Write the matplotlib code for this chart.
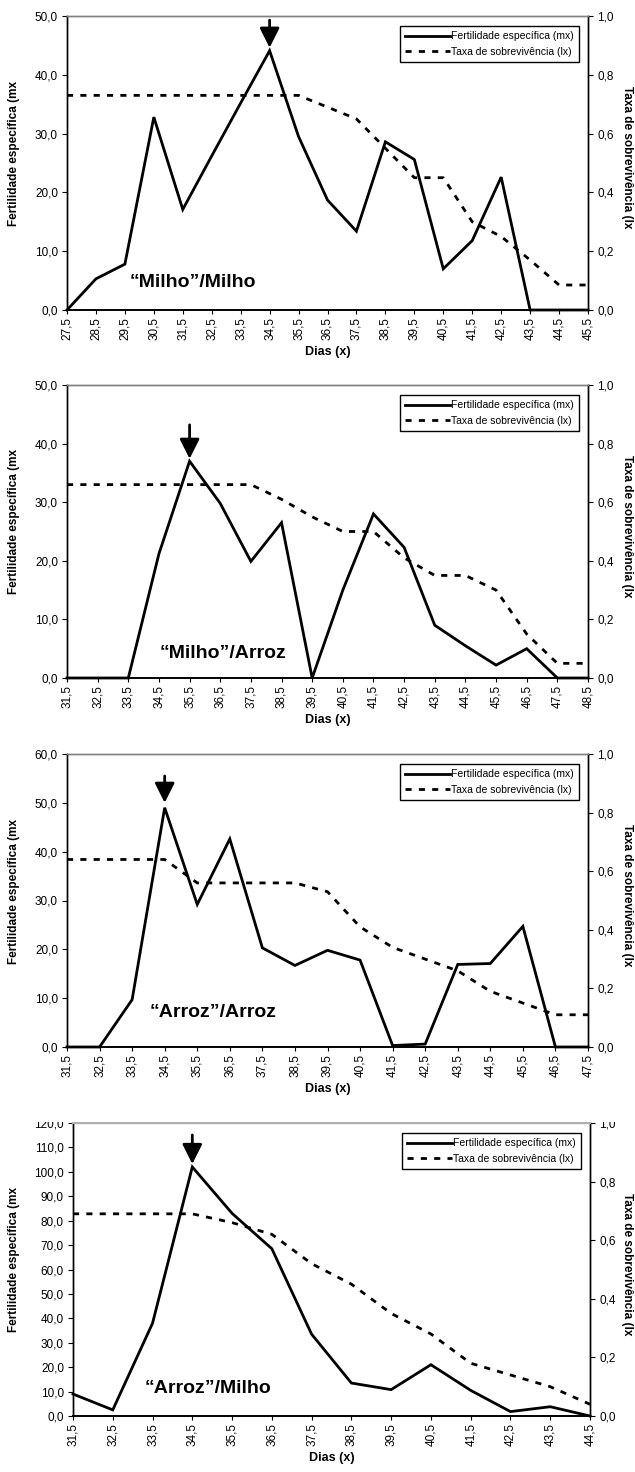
"""
Fertilidade especifica (mx) e taxa de sobrevivencia (lx) - quatro paineis.
"""
import matplotlib
matplotlib.use('Agg')
import matplotlib.pyplot as plt
from matplotlib.patches import Rectangle
from matplotlib.ticker import FuncFormatter, MultipleLocator

plt.rcParams['font.family'] = ['Liberation Sans', 'DejaVu Sans']

# "Milho"/Milho
dias_mm = [27.5, 28.5, 29.5, 30.5, 31.5, 32.5, 33.5, 34.5, 35.5, 36.5,
           37.5, 38.5, 39.5, 40.5, 41.5, 42.5, 43.5, 44.5, 45.5]
mx_mm = [0.0, 5.3, 7.8, 32.8, 17.1, 26.2, 35.2, 44.1, 29.5, 18.7,
         13.4, 28.6, 25.6, 7.0, 11.8, 22.6, 0.0, 0.0, 0.0]
lx_mm = [0.73, 0.73, 0.73, 0.73, 0.73, 0.73, 0.73, 0.73, 0.73, 0.69,
         0.65, 0.55, 0.45, 0.45, 0.30, 0.25, 0.17, 0.085, 0.085]

# "Milho"/Arroz
dias_ma = [31.5, 32.5, 33.5, 34.5, 35.5, 36.5, 37.5, 38.5, 39.5, 40.5,
           41.5, 42.5, 43.5, 44.5, 45.5, 46.5, 47.5, 48.5]
mx_ma = [0.0, 0.0, 0.0, 21.2, 37.0, 29.8, 19.9, 26.5, 0.0, 15.0,
         28.0, 22.3, 9.0, 5.5, 2.2, 5.0, 0.0, 0.0]
lx_ma = [0.66, 0.66, 0.66, 0.66, 0.66, 0.66, 0.66, 0.61, 0.55, 0.50,
         0.50, 0.41, 0.35, 0.35, 0.30, 0.15, 0.05, 0.05]

# "Arroz"/Arroz
dias_aa = [31.5, 32.5, 33.5, 34.5, 35.5, 36.5, 37.5, 38.5, 39.5, 40.5,
           41.5, 42.5, 43.5, 44.5, 45.5, 46.5, 47.5]
mx_aa = [0.0, 0.0, 9.7, 49.0, 29.2, 42.6, 20.3, 16.7, 19.8, 17.8,
         0.3, 0.6, 16.9, 17.1, 24.7, 0.0, 0.0]
lx_aa = [0.64, 0.64, 0.64, 0.64, 0.56, 0.56, 0.56, 0.56, 0.53, 0.41,
         0.34, 0.30, 0.26, 0.19, 0.15, 0.11, 0.11]

# "Arroz"/Milho
dias_am = [31.5, 32.5, 33.5, 34.5, 35.5, 36.5, 37.5, 38.5, 39.5, 40.5,
           41.5, 42.5, 43.5, 44.5]
mx_am = [9.0, 2.5, 38.0, 102.0, 83.0, 68.5, 33.5, 13.5, 10.8, 21.0,
         10.5, 1.8, 3.8, 0.0]
lx_am = [0.69, 0.69, 0.69, 0.69, 0.66, 0.62, 0.52, 0.45, 0.35, 0.28,
         0.18, 0.14, 0.10, 0.04]

titles = ['\u201cMilho\u201d/Milho', '\u201cMilho\u201d/Arroz',
          '\u201cArroz\u201d/Arroz', '\u201cArroz\u201d/Milho']

W, H = 635.0, 1472.0


def virgula(fmt):
    return FuncFormatter(lambda v, p: (fmt % v).replace('.', ','))


def plot_panel(fig, box, dias, mx, lx, ymax, ystep, title, text_pos,
               arrow, top_color='#808080', top_lw=1.0):
    """Draw one panel: mx on the left axis, lx on the right axis."""
    left, top, right, bottom = box
    width, height = right - left, bottom - top
    ax = fig.add_axes([left / W, 1 - bottom / H, width / W, height / H])
    ax2 = ax.twinx()

    l1, = ax.plot(dias, mx, color='black', lw=2.0, clip_on=False,
                  solid_joinstyle='miter', zorder=3)
    l2, = ax2.plot(dias, lx, color='black', lw=2.0, clip_on=False,
                   linestyle=(0, (2.2, 2.6)), zorder=2)

    ax.set_xlim(dias[0], dias[-1])
    ax.set_ylim(0, ymax)
    ax2.set_ylim(0, 1.0)
    ax.set_xticks(dias)
    ax.xaxis.set_major_formatter(virgula('%.1f'))
    ax.yaxis.set_major_locator(MultipleLocator(ystep))
    ax.yaxis.set_major_formatter(virgula('%.1f'))
    ax2.yaxis.set_major_locator(MultipleLocator(0.2))
    ax2.yaxis.set_major_formatter(virgula('%.1f'))

    ax.tick_params(axis='x', labelrotation=90, labelsize=8.5, length=3,
                   width=0.8, pad=2)
    ax.tick_params(axis='y', labelsize=8.5, length=3.5, width=0.8, pad=3)
    ax2.tick_params(axis='y', labelsize=8.5, length=3.5, width=0.8, pad=3)

    for a in (ax, ax2):
        a.spines['top'].set_color(top_color)
        a.spines['top'].set_linewidth(top_lw)
        a.spines['left'].set_linewidth(1.0)
        a.spines['right'].set_linewidth(1.0)
        a.spines['bottom'].set_linewidth(1.2)

    ax.set_xlabel('Dias (x)', fontsize=9, fontweight='bold', labelpad=4)
    ax.set_ylabel('Fertilidade espec\u00edfica (mx', fontsize=8.5,
                  fontweight='bold', va='center')
    ax.yaxis.set_label_coords((14 - left) / width, 1 - 137 / height)
    ax2.set_ylabel('Taxa de sobreviv\u00eancia (lx', fontsize=8.5,
                   fontweight='bold', rotation=270, va='center')
    ax2.yaxis.set_label_coords(1 + (627 - right) / width, 1 - 141 / height)

    ax.text(text_pos[0], text_pos[1], title, fontsize=14,
            fontweight='bold', ha='center', va='baseline', zorder=5)

    # seta sobre o pico de fertilidade
    ax2.annotate('', xy=arrow[1], xytext=arrow[0],
                 xycoords=ax.transData, textcoords=ax.transData,
                 arrowprops=dict(arrowstyle='-|>,head_length=0.8,head_width=0.4',
                                 mutation_scale=15, lw=2, color='black',
                                 shrinkA=0, shrinkB=0))

    leg = ax2.legend([l1, l2], ['Fertilidade espec\u00edfica (mx)',
                                'Taxa de sobreviv\u00eancia (lx)'],
                     loc='upper right', bbox_to_anchor=(1 - 9 / width,
                                                        1 - 10 / height),
                     borderaxespad=0, fontsize=7.5, fancybox=False,
                     framealpha=1, edgecolor='black', handlelength=4.3,
                     handletextpad=0.1, labelspacing=0.55, borderpad=0.5)
    leg.get_frame().set_linewidth(1.0)
    return ax, ax2


def main():
    fig = plt.figure(figsize=(W / 100, H / 100), dpi=100)
    fig.patch.set_facecolor('white')

    plot_panel(fig, (67, 16, 588, 310), dias_mm, mx_mm, lx_mm, 50, 10,
               titles[0], (31.85, 3.9), ((34.5, 49.3), (34.5, 44.6)))
    plot_panel(fig, (67, 385, 588, 678), dias_ma, mx_ma, lx_ma, 50, 10,
               titles[1], (36.6, 3.4), ((35.5, 43.2), (35.5, 37.4)))
    plot_panel(fig, (67, 754, 588, 1047), dias_aa, mx_aa, lx_aa, 60, 10,
               titles[2], (36.0, 6.1), ((34.5, 55.5), (34.5, 50.0)))
    plot_panel(fig, (73, 1123, 590, 1416), dias_am, mx_am, lx_am, 120, 10,
               titles[3], (34.9, 9.4), ((34.5, 115.1), (34.5, 103.2)),
               top_color='#b0b0b0', top_lw=1.6)

    # recorte no topo do ultimo painel, como na figura original
    fig.add_artist(Rectangle((0, 1 - 1121.5 / H), 1, 22 / H,
                             transform=fig.transFigure,
                             facecolor='white', edgecolor='none',
                             zorder=10))

    fig.savefig('out.png', dpi=100, facecolor='white')


if __name__ == '__main__':
    main()
